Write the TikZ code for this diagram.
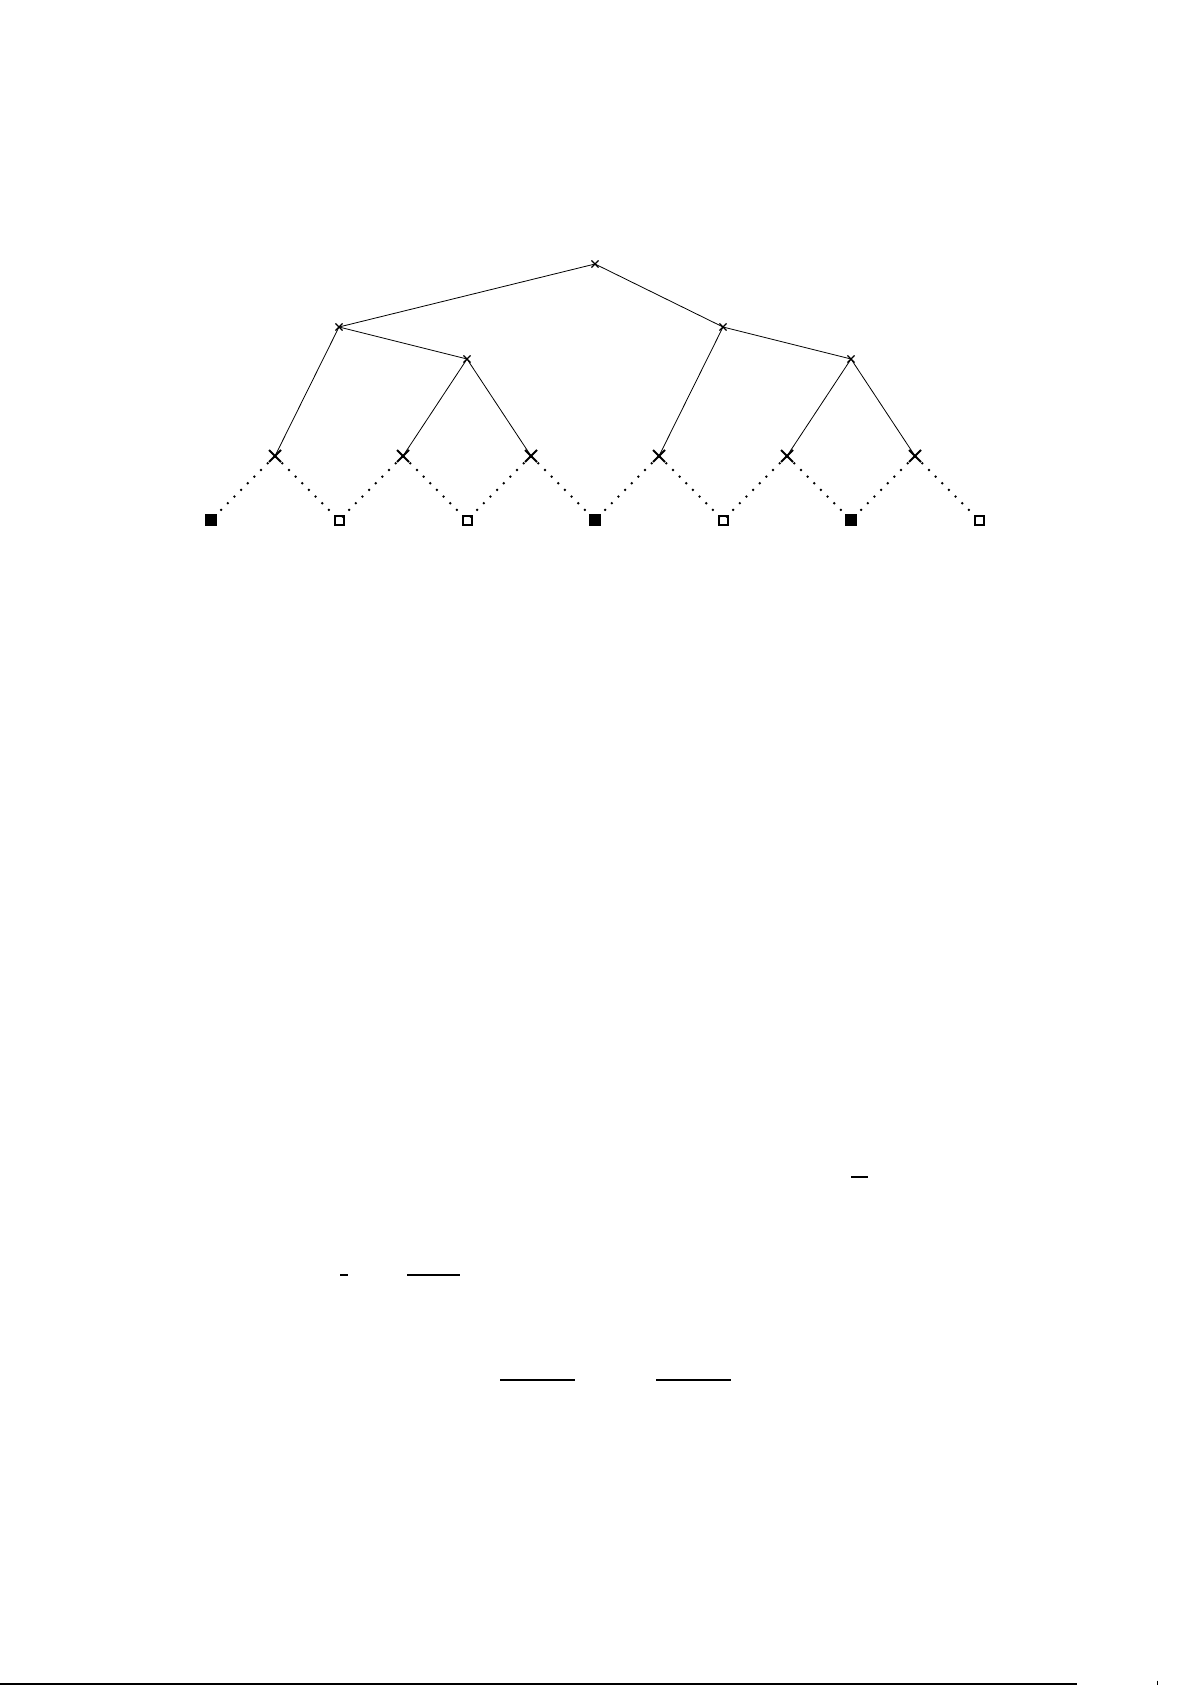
\documentclass[tikz,border=0pt]{standalone}
\usetikzlibrary{shapes.misc}
\begin{document}
\begin{tikzpicture}[x=1pt,y=-1pt,
  smallx/.style={cross out,draw,line width=1.1pt,minimum size=6pt,inner sep=0pt},
  bigx/.style={cross out,draw,line width=2pt,minimum size=10pt,inner sep=0pt},
  fullsq/.style={rectangle,fill=black,minimum size=12pt,inner sep=0pt},
  opensq/.style={rectangle,draw,line width=2pt,minimum size=9pt,inner sep=0pt,fill=none},
  branch/.style={line width=0.8pt},
  dotline/.style={line width=1.9pt,dash pattern=on 1.9pt off 7.5pt},
  bar/.style={line width=2pt},
  thinbar/.style={line width=1.3pt}]
\useasboundingbox (0,0) rectangle (1192,1685);
% coordinates of tree nodes
\coordinate (r) at (595,264);
\coordinate (a) at (339,327);
\coordinate (b) at (723,327);
\coordinate (a2) at (467,359);
\coordinate (b2) at (851,359);
\coordinate (c1) at (275,456);
\coordinate (c2) at (403,456);
\coordinate (c3) at (531,456);
\coordinate (c4) at (659,456);
\coordinate (c5) at (787,456);
\coordinate (c6) at (915,456);
\coordinate (s1) at (211,520);
\coordinate (s2) at (339,520);
\coordinate (s3) at (467,520);
\coordinate (s4) at (595,520);
\coordinate (s5) at (723,520);
\coordinate (s6) at (851,520);
\coordinate (s7) at (979,520);
% solid branches
\draw[branch] (a) -- (r) -- (b);
\draw[branch] (c1) -- (a) -- (a2);
\draw[branch] (c2) -- (a2) -- (c3);
\draw[branch] (c4) -- (b) -- (b2);
\draw[branch] (c5) -- (b2) -- (c6);
% dotted branches
\foreach \c/\l/\r in {c1/s1/s2,c2/s2/s3,c3/s3/s4,c4/s4/s5,c5/s5/s6,c6/s6/s7}{
  \draw[dotline] (\c) -- (\l);
  \draw[dotline] (\c) -- (\r);
}
% markers
\node[smallx] (nr) at (r) {};
\node[smallx] (na) at (a) {};
\node[smallx] (nb) at (b) {};
\node[smallx] (na2) at (a2) {};
\node[smallx] (nb2) at (b2) {};
\foreach \c in {c1,c2,c3,c4,c5,c6}{\node[bigx] (n\c) at (\c) {};}
\node[fullsq] (ns1) at (s1) {};
\node[opensq] (ns2) at (s2) {};
\node[opensq] (ns3) at (s3) {};
\node[fullsq] (ns4) at (s4) {};
\node[opensq] (ns5) at (s5) {};
\node[fullsq] (ns6) at (s6) {};
\node[opensq] (ns7) at (s7) {};
% stray bars
\coordinate (p1) at (851,1177); \coordinate (q1) at (868,1177);
\coordinate (p2) at (340,1275); \coordinate (q2) at (348,1275);
\coordinate (p3) at (407,1275); \coordinate (q3) at (460,1275);
\coordinate (p4) at (500,1380); \coordinate (q4) at (575,1380);
\coordinate (p5) at (656,1380); \coordinate (q5) at (731,1380);
\draw[bar] (p1) -- (q1);
\draw[bar] (p2) -- (q2);
\draw[bar] (p3) -- (q3);
\draw[thinbar] (p4) -- (q4);
\draw[thinbar] (p5) -- (q5);
% bottom rule
\coordinate (f1) at (0,1684); \coordinate (f2) at (1077,1684);
\coordinate (t1) at (1157,1680.5); \coordinate (t2) at (1157,1685);
\draw[line width=1.2pt] (f1) -- (f2);
\draw[line width=0.8pt] (t1) -- (t2);
\end{tikzpicture}
\end{document}
